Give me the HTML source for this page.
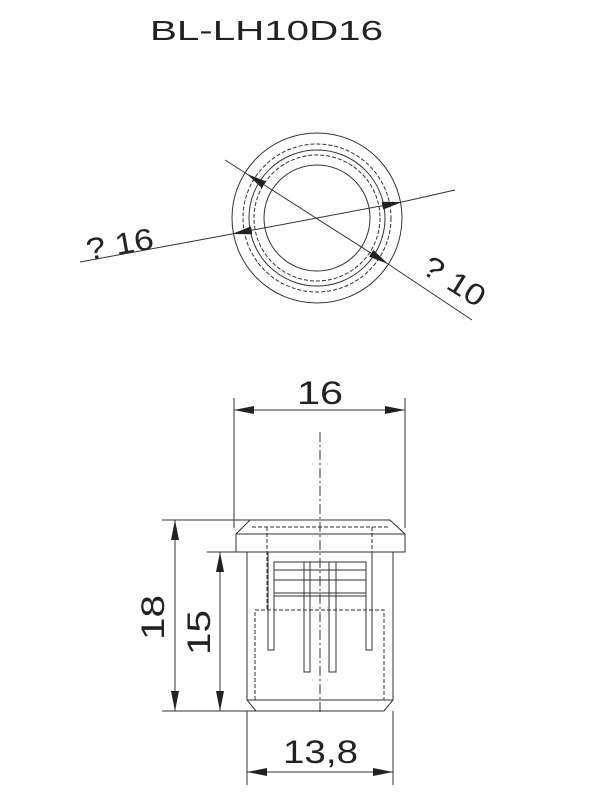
<!DOCTYPE html><html><head><style>body{margin:0;background:#fff}svg{display:block}text{font-family:"Liberation Sans",sans-serif;fill:#222}</style></head><body>
<svg width="600" height="800" viewBox="0 0 600 800" stroke="#333" fill="none" stroke-width="1">
<defs><marker id="a" viewBox="0 0 20 8" refX="20" refY="4" markerWidth="20" markerHeight="8" markerUnits="userSpaceOnUse" orient="auto-start-reverse"><path d="M0,0L20,4L0,8z" fill="#222" stroke="none"/></marker></defs>
<text x="150" y="40" font-size="28" stroke="none" textLength="233" lengthAdjust="spacingAndGlyphs">BL-LH10D16</text>
<g transform="translate(317,218)">
<circle r="85"/><circle r="74" stroke-dasharray="4,2"/><circle r="68"/><circle r="63" stroke-dasharray="4,2"/><circle r="53"/></g>
<line x1="80" y1="262" x2="232" y2="234"/><line x1="232" y1="234" x2="402" y2="202" marker-start="url(#a)" marker-end="url(#a)"/><line x1="402" y1="202" x2="455" y2="190"/>
<line x1="225" y1="160" x2="247" y2="174"/><line x1="247" y1="174" x2="388" y2="264" marker-start="url(#a)" marker-end="url(#a)"/><line x1="388" y1="264" x2="472" y2="320"/>
<text transform="translate(88,260) rotate(-10)" font-size="30" stroke="none" textLength="68" lengthAdjust="spacingAndGlyphs">? 16</text>
<text transform="translate(420,272) rotate(32)" font-size="30" stroke="none" textLength="68" lengthAdjust="spacingAndGlyphs">? 10</text>
<line x1="234" y1="398" x2="234" y2="528"/><line x1="405" y1="398" x2="405" y2="528"/>
<line x1="234" y1="410" x2="405" y2="410" marker-start="url(#a)" marker-end="url(#a)"/>
<text x="297" y="404" font-size="32" stroke="none" textLength="46" lengthAdjust="spacingAndGlyphs">16</text>
<line x1="320" y1="432" x2="320" y2="715" stroke-dasharray="10,3,2,3"/>
<path d="M250,520H390L405,534V552H236V534Z"/><line x1="236" y1="534" x2="405" y2="534"/>
<path d="M247,552V700L256,711H384L393,700V552"/><line x1="247" y1="700" x2="393" y2="700"/>
<path d="M252,527H388M267,527V610M372,527V610M255,700V610H384V700" stroke-dasharray="4,2"/>
<path d="M268,552V650H274V562H304V672H310V562H329V672H336V562H366V650H372V552"/>
<path d="M274,562H366M274,570H366M274,580H366M274,593H366M274,596H366"/>
<path d="M162,520H250M207,552H247M162,711H256"/>
<line x1="175" y1="520" x2="175" y2="711" marker-start="url(#a)" marker-end="url(#a)"/>
<line x1="220" y1="552" x2="220" y2="711" marker-start="url(#a)" marker-end="url(#a)"/>
<text transform="translate(164,640) rotate(-90)" font-size="32" stroke="none" textLength="45" lengthAdjust="spacingAndGlyphs">18</text>
<text transform="translate(210,655) rotate(-90)" font-size="32" stroke="none" textLength="45" lengthAdjust="spacingAndGlyphs">15</text>
<line x1="247" y1="711" x2="247" y2="785"/><line x1="393" y1="711" x2="393" y2="785"/>
<line x1="247" y1="772" x2="393" y2="772" marker-start="url(#a)" marker-end="url(#a)"/>
<text x="283" y="763" font-size="32" stroke="none" textLength="75" lengthAdjust="spacingAndGlyphs">13,8</text>
</svg></body></html>
